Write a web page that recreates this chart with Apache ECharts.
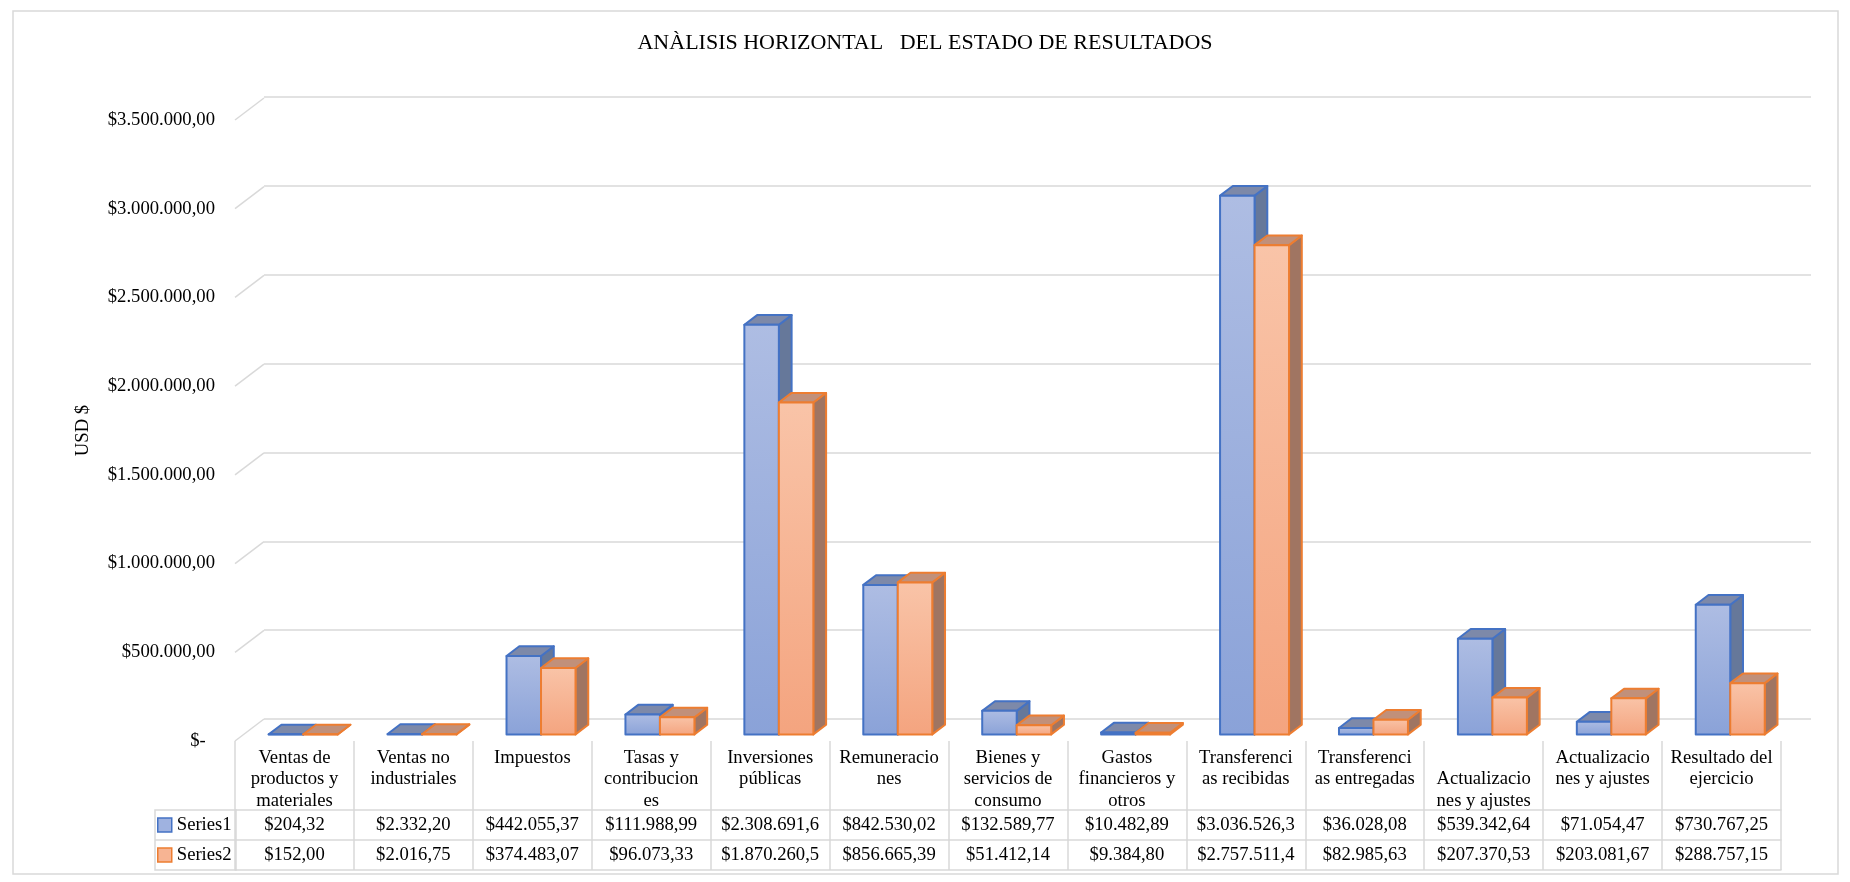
<!DOCTYPE html>
<html>
<head>
<meta charset="utf-8">
<style>
    html,body{margin:0;padding:0;background:#fff;}
    #estadoResultados{width:1850px;height:882px;}
</style>
<script src="https://cdn.jsdelivr.net/npm/echarts@6/dist/echarts.min.js"></script>
</head>
<body>
<div id="estadoResultados"></div>
<script>
    // categorias tal como salen en la tabla (con los cortes de linea de Excel)
    var categories = [
        'Ventas de\nproductos y\nmateriales',
        'Ventas no\nindustriales',
        'Impuestos',
        'Tasas y\ncontribucion\nes',
        'Inversiones\npúblicas',
        'Remuneracio\nnes',
        'Bienes y\nservicios de\nconsumo',
        'Gastos\nfinancieros y\notros',
        'Transferenci\nas recibidas',
        'Transferenci\nas entregadas',
        '\nActualizacio\nnes y ajustes',
        'Actualizacio\nnes y ajustes',
        'Resultado del\nejercicio'
    ];
    var series1 = [204.32, 2332.20, 442055.37, 111988.99, 2308691.60, 842530.02, 132589.77,
        10482.89, 3036526.30, 36028.08, 539342.64, 71054.47, 730767.25];
    var series2 = [152.00, 2016.75, 374483.07, 96073.33, 1870260.50, 856665.39, 51412.14,
        9384.80, 2757511.40, 82985.63, 207370.53, 203081.67, 288757.15];
    var yTicks = [0, 500000, 1000000, 1500000, 2000000, 2500000, 3000000, 3500000];

    var FONT = 'Liberation Serif, Times New Roman, serif';
    var DX = 29, DY = 22;          // profundidad del piso
    var F0 = 0.30, F1 = 0.74;      // profundidad de las barras
    var GRID_C = '#d9d9d9';

    function fmtMoney(v){
        var p = v.toFixed(2).split('.');
        return '$' + p[0].replace(/\B(?=(\d{3})+(?!\d))/g, '.') + ',' + p[1];
    }

    var colors = [
        {stroke:'#4472c4', top:'#7d89a9', side:'#66789a', g0:'#aebde3', g1:'#8aa2d8', key:'#9fb2e0'},
        {stroke:'#ed7d31', top:'#c1907a', side:'#a07562', g0:'#f9c4a8', g1:'#f4a47f', key:'#f7b493'}
    ];

    function barRenderer(s){
        var c = colors[s];
        return function(params, api){
            var idx = api.value(0), v = api.value(1);
            var base = api.coord([idx, 0]), top = api.coord([idx, v]);
            var bw = api.size([1, 0])[0] * 0.29;
            var fx = DX * F0, fy = -DY * F0;
            var ddx = DX * (F1 - F0), ddy = -DY * (F1 - F0);
            var xL = base[0] + (s === 0 ? -bw : 0) + fx;
            var yB = base[1] + fy, yT = top[1] + fy;
            var xR = xL + bw;
            var line = {stroke:c.stroke, lineWidth:2, lineJoin:'round'};
            return {
                type:'group',
                children:[
                    {type:'polygon', shape:{points:[[xR,yT],[xR,yB],[xR+ddx,yB+ddy],[xR+ddx,yT+ddy]]},
                        style:Object.assign({fill:c.side}, line)},
                    {type:'polygon', shape:{points:[[xL,yT],[xR,yT],[xR+ddx,yT+ddy],[xL+ddx,yT+ddy]]},
                        style:Object.assign({fill:c.top}, line)},
                    {type:'rect', shape:{x:xL, y:yT, width:bw, height:yB - yT},
                        style:Object.assign({
                            fill:new echarts.graphic.LinearGradient(0, 0, 0, 1, [
                                {offset:0, color:c.g0}, {offset:1, color:c.g1}])
                        }, line)}
                ]
            };
        };
    }

    var textStyle = {fontFamily:FONT, fontSize:18.67, color:'#000'};

    function rowAxis(data, offset){
        return {
            type:'category', gridIndex:1, position:'bottom', offset:offset,
            data:categories,
            axisLine:{show:true, lineStyle:{color:GRID_C, width:1.5}},
            axisTick:{show:true, interval:0, length:30, lineStyle:{color:GRID_C, width:1.5}},
            axisLabel:Object.assign({
                interval:0, margin:15, verticalAlign:'middle',
                width:102, overflow:'truncate', ellipsis:'',
                formatter:function(val, i){ return fmtMoney(data[i]); }
            }, textStyle)
        };
    }

    var chart = echarts.init(document.getElementById('estadoResultados'));
    var option = {
        animation:false,
        title:{
            text:'ANÀLISIS HORIZONTAL   DEL ESTADO DE RESULTADOS',
            left:'center', top:32, padding:0,
            textStyle:{fontFamily:FONT, fontSize:22, fontWeight:'normal', color:'#000'}
        },
        legend:{
            orient:'vertical', left:157, top:815, padding:0,
            itemWidth:14, itemHeight:14, itemGap:10, icon:'rect', selectedMode:false,
            textStyle:Object.assign({lineHeight:20}, textStyle),
            data:[
                {name:'Series1', itemStyle:{color:colors[0].key, borderColor:colors[0].stroke, borderWidth:1.5}},
                {name:'Series2', itemStyle:{color:colors[1].key, borderColor:colors[1].stroke, borderWidth:1.5}}
            ]
        },
        grid:[
            // pared del fondo
            {left:264, right:39, top:97, bottom:163},
            // plano frontal
            {left:235, right:69, top:120, bottom:141}
        ],
        xAxis:[
            {type:'category', gridIndex:0, data:categories, show:false},
            {
                type:'category', gridIndex:1, position:'bottom', data:categories,
                axisLine:{show:false},
                axisTick:{show:true, interval:0, length:69, lineStyle:{color:GRID_C, width:1.5}},
                axisLabel:Object.assign({interval:0, margin:6, lineHeight:21.5, verticalAlign:'top'}, textStyle)
            },
            rowAxis(series1, 69),
            rowAxis(series2, 99),
            {type:'category', gridIndex:1, position:'bottom', offset:129, data:categories,
                axisLine:{show:true, lineStyle:{color:GRID_C, width:1.5}},
                axisTick:{show:false}, axisLabel:{show:false}}
        ],
        yAxis:[
            {type:'value', gridIndex:0, min:0, max:3500000, interval:500000,
                axisLabel:{show:false}, axisLine:{show:false}, axisTick:{show:false},
                splitLine:{show:true, lineStyle:{color:GRID_C, width:1.5}}},
            {type:'value', gridIndex:1, min:0, max:3500000, interval:500000,
                name:'USD $', nameLocation:'middle', nameRotate:90, nameGap:142,
                nameTextStyle:textStyle,
                axisLine:{show:false}, axisTick:{show:false}, splitLine:{show:false},
                axisLabel:Object.assign({
                    margin:20,
                    formatter:function(v){ return v === 0 ? '$-  ' : fmtMoney(v); }
                }, textStyle)}
        ],
        graphic:[
            {type:'rect', shape:{x:13, y:11, width:1825, height:863},
                style:{fill:'none', stroke:GRID_C, lineWidth:1.5}, silent:true},
            {type:'rect', shape:{x:155, y:810, width:81, height:60},
                style:{fill:'none', stroke:GRID_C, lineWidth:1.5}, silent:true},
            {type:'line', shape:{x1:155, y1:840, x2:236, y2:840},
                style:{stroke:GRID_C, lineWidth:1.5}, silent:true}
        ],
        series:[
            {
                name:'diagonales', type:'custom', xAxisIndex:1, yAxisIndex:1, silent:true,
                data:yTicks.map(function(v){ return [0, v]; }),
                renderItem:function(params, api){
                    var p = api.coord([0, api.value(1)]);
                    var x0 = params.coordSys.x;
                    return {type:'line', shape:{x1:x0, y1:p[1], x2:x0 + DX, y2:p[1] - DY},
                        style:{stroke:GRID_C, lineWidth:1.5}};
                }
            },
            {
                name:'Series1', type:'custom', xAxisIndex:1, yAxisIndex:1, clip:false,
                itemStyle:{color:colors[0].key},
                data:series1.map(function(v, i){ return [i, v]; }),
                renderItem:barRenderer(0)
            },
            {
                name:'Series2', type:'custom', xAxisIndex:1, yAxisIndex:1, clip:false,
                itemStyle:{color:colors[1].key},
                data:series2.map(function(v, i){ return [i, v]; }),
                renderItem:barRenderer(1)
            }
        ]
    };
    chart.setOption(option);
</script>
</body>
</html>
